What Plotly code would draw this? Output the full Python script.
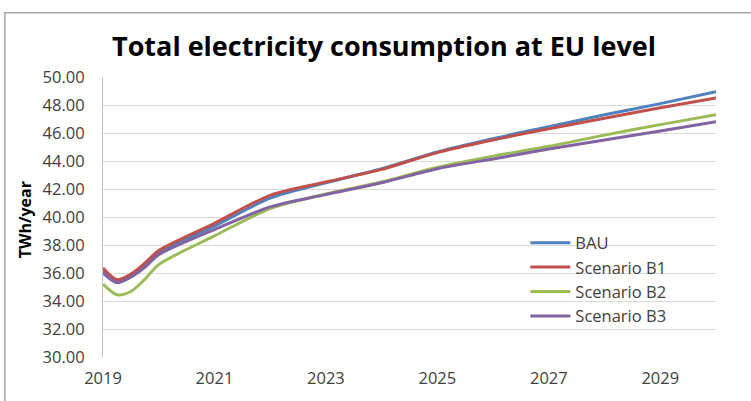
import plotly.graph_objects as go

# Years (first year sampled quarterly to capture the early dip)
years = [2019, 2019.25, 2019.5, 2019.75, 2020, 2021, 2022, 2023, 2024, 2025, 2026, 2027, 2028, 2029, 2030]

# Total electricity consumption, TWh/year
bau = [36.15, 35.40, 35.80, 36.55, 37.45, 39.35, 41.35, 42.45, 43.45, 44.65, 45.60, 46.45, 47.30, 48.10, 48.95]
b1  = [36.35, 35.52, 35.92, 36.70, 37.60, 39.55, 41.55, 42.50, 43.40, 44.60, 45.50, 46.30, 47.05, 47.80, 48.50]
b2  = [35.20, 34.45, 34.68, 35.55, 36.60, 38.65, 40.60, 41.65, 42.50, 43.55, 44.35, 45.05, 45.85, 46.60, 47.30]
b3  = [36.00, 35.30, 35.70, 36.40, 37.30, 39.10, 40.72, 41.60, 42.45, 43.45, 44.15, 44.85, 45.50, 46.15, 46.80]

series = [
    ("BAU", bau, "#4F81BD"),
    ("Scenario B1", b1, "#C0504D"),
    ("Scenario B2", b2, "#9BBB59"),
    ("Scenario B3", b3, "#8064A2"),
]

y_ticks = [30, 32, 34, 36, 38, 40, 42, 44, 46, 48, 50]
x_ticks = [2019, 2021, 2023, 2025, 2027, 2029]

FONT = "Open Sans, Calibri, sans-serif"

fig = go.Figure()
for name, vals, color in series:
    fig.add_trace(go.Scatter(
        x=years, y=vals, name=name, mode="lines",
        line=dict(color=color, width=3, shape="spline", smoothing=0.8),
    ))

fig.update_layout(
    width=751, height=401,
    margin=dict(l=103, r=35, t=77, b=41),
    paper_bgcolor="white", plot_bgcolor="white",
    font=dict(family=FONT, color="#404040", size=16),
    showlegend=True,
    legend=dict(
        x=0.689, y=0.47, xanchor="left", yanchor="top",
        bgcolor="rgba(0,0,0,0)", tracegroupgap=0,
        font=dict(size=16.5, color="#404040", family=FONT),
        itemwidth=40,
    ),
    annotations=[
        dict(text="<b>Total electricity consumption at EU level</b>",
             xref="paper", yref="paper", x=0.458, y=1.113,
             xanchor="center", yanchor="middle", showarrow=False,
             font=dict(size=27, color="black", family=FONT)),
        dict(text="<b>TWh/year</b>", textangle=-90,
             xref="paper", yref="paper", x=-0.128, y=0.49,
             xanchor="center", yanchor="middle", showarrow=False,
             font=dict(size=16, color="black", family=FONT)),
    ],
    shapes=[
        dict(type="rect", xref="paper", yref="paper",
             x0=-0.16, x1=1.2, y0=-0.25, y1=1.2297,
             line=dict(color="#a6a6a6", width=1.5), fillcolor="rgba(0,0,0,0)"),
    ],
)

fig.update_xaxes(
    range=[2019, 2030], tickvals=x_ticks, ticktext=[str(v) for v in x_ticks],
    showgrid=False, showline=False, zeroline=False,
    tickfont=dict(size=16.5, color="#404040", family=FONT), ticks="",
    ticklabelstandoff=9,
)
fig.update_yaxes(
    range=[30, 50], tickvals=y_ticks, ticktext=[f"{v:.2f}" for v in y_ticks],
    showgrid=True, gridcolor="#d9d9d9", gridwidth=1.2,
    showline=True, linecolor="#bfbfbf", linewidth=1.2, zeroline=False,
    tickfont=dict(size=16.5, color="#404040", family=FONT), ticks="",
    ticklabelstandoff=14,
)

fig.write_html("out.html")
